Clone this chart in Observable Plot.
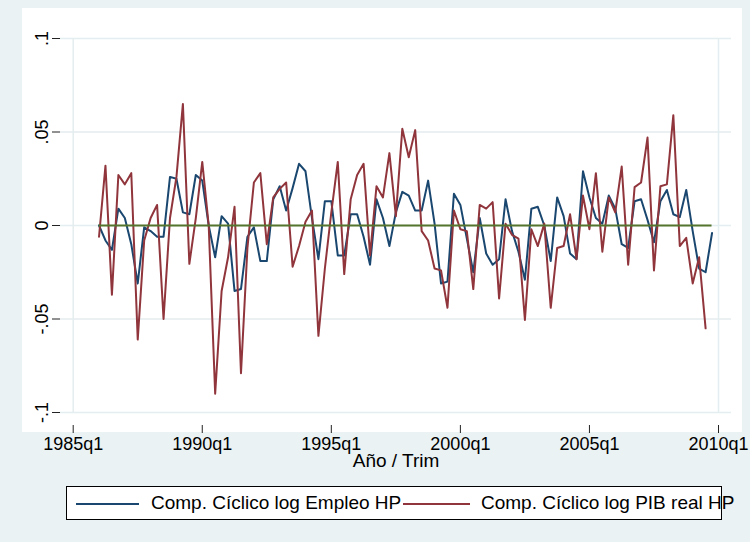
<!DOCTYPE html>
<html><head><meta charset="utf-8">
<script src="https://cdn.jsdelivr.net/npm/d3@7"></script>
<script src="https://cdn.jsdelivr.net/npm/@observablehq/plot@0.6"></script>
<style>
body{margin:0;background:#eaf2f3;font-family:"Liberation Sans",Arial,sans-serif;}
#wrap{position:relative;width:750px;height:542px;overflow:hidden;background:#eaf2f3;}
#inner{position:absolute;left:22px;top:8px;width:720px;height:424px;background:#fff;}
#chart{position:absolute;left:0;top:0;}
#legend{position:absolute;left:66px;top:486px;width:656px;height:34px;background:#fff;border:1px solid #000;box-sizing:border-box;white-space:nowrap;font-size:19px;color:#000;}
#legend .sw{position:absolute;top:16px;height:0;border-top:2px solid;}
#legend .lb{position:absolute;top:5px;line-height:22px;}
</style>
</head><body>
<div id="wrap"><div id="inner"></div><div id="chart"></div>
<div id="legend"></div></div>
<script>
const quarters = ["1986q1","1986q2","1986q3","1986q4","1987q1","1987q2","1987q3","1987q4","1988q1","1988q2","1988q3","1988q4","1989q1","1989q2","1989q3","1989q4","1990q1","1990q2","1990q3","1990q4","1991q1","1991q2","1991q3","1991q4","1992q1","1992q2","1992q3","1992q4","1993q1","1993q2","1993q3","1993q4","1994q1","1994q2","1994q3","1994q4","1995q1","1995q2","1995q3","1995q4","1996q1","1996q2","1996q3","1996q4","1997q1","1997q2","1997q3","1997q4","1998q1","1998q2","1998q3","1998q4","1999q1","1999q2","1999q3","1999q4","2000q1","2000q2","2000q3","2000q4","2001q1","2001q2","2001q3","2001q4","2002q1","2002q2","2002q3","2002q4","2003q1","2003q2","2003q3","2003q4","2004q1","2004q2","2004q3","2004q4","2005q1","2005q2","2005q3","2005q4","2006q1","2006q2","2006q3","2006q4","2007q1","2007q2","2007q3","2007q4","2008q1","2008q2","2008q3","2008q4","2009q1","2009q2","2009q3","2009q4"];

// Comp. Cíclico log Empleo HP
const empleo = [
  0.000,-0.008,-0.013, 0.009,
  0.004,-0.010,-0.031,-0.001,
 -0.003,-0.006,-0.006, 0.026,
  0.025, 0.007, 0.006, 0.027,
  0.024, 0.000,-0.017, 0.005,
  0.001,-0.035,-0.034,-0.006,
 -0.001,-0.019,-0.019, 0.014,
  0.021, 0.008, 0.020, 0.033,
  0.029, 0.004,-0.018, 0.013,
  0.013,-0.016,-0.016, 0.006,
  0.006,-0.006,-0.021, 0.014,
  0.004,-0.011, 0.007, 0.018,
  0.016, 0.008, 0.008, 0.024,
  0.001,-0.031,-0.030, 0.017,
  0.011,-0.007,-0.025, 0.004,
 -0.015,-0.021,-0.018, 0.014,
 -0.003,-0.014,-0.029, 0.009,
  0.010, 0.000,-0.019, 0.015,
  0.005,-0.015,-0.018, 0.029,
  0.015, 0.004, 0.001, 0.016,
  0.009,-0.010,-0.012, 0.013,
  0.014, 0.003,-0.009, 0.013,
  0.019, 0.006, 0.0045,0.019,
 -0.003,-0.023,-0.025,-0.004];

// Comp. Cíclico log PIB real HP
const pib = [
 -0.006, 0.032,-0.037, 0.027,
  0.022, 0.028,-0.061,-0.008,
  0.004, 0.011,-0.050, 0.004,
  0.026, 0.065,-0.0205,0.004,
  0.034, 0.000,-0.090,-0.035,
 -0.017, 0.010,-0.079,-0.012,
  0.023, 0.028,-0.010, 0.015,
  0.0196,0.023,-0.022,-0.011,
  0.002, 0.008,-0.059,-0.023,
  0.007, 0.034,-0.026, 0.014,
  0.027, 0.033,-0.016, 0.021,
  0.015, 0.0387,0.005, 0.0517,
  0.0365,0.051,-0.003,-0.008,
 -0.023,-0.024,-0.044, 0.008,
 -0.002,-0.003,-0.034, 0.011,
  0.009, 0.0125,-0.039,0.001,
 -0.005,-0.007,-0.0505,-0.002,
 -0.011, 0.001,-0.044,-0.012,
 -0.011, 0.006,-0.018, 0.016,
 -0.002, 0.028,-0.014, 0.015,
  0.007, 0.0315,-0.021,0.0205,
  0.023, 0.047,-0.024, 0.021,
  0.022, 0.059,-0.011,-0.0066,
 -0.031,-0.017,-0.055, null];

const seriesNames = ["Comp. Cíclico log Empleo HP", "Comp. Cíclico log PIB real HP"];
const xTicks = [1985, 1990, 1995, 2000, 2005, 2010];
const xTickSuffix = "q1";
const yTicks = [-0.1, -0.05, 0, 0.05, 0.1];
const xTitle = "Año / Trim";

const colors = {empleo: "#1a476f", pib: "#90353b", zero: "#55752f", grid: "#e4edef"};

const toT = s => { const [y, q] = s.split("q").map(Number); return y + (q - 1) / 4; };
const rows = quarters.map((s, i) => ({t: toT(s), empleo: empleo[i], pib: pib[i]}));
const yFmt = d => d === 0 ? "0" : String(d).replace(/^(-?)0\./, "$1.");

const chart = Plot.plot({
  width: 750, height: 470,
  marginLeft: 60, marginRight: 19, marginTop: 25, marginBottom: 45,
  style: {background: "transparent", fontFamily: "'Liberation Sans', Arial, sans-serif", fontSize: "18px", color: "#000"},
  x: {domain: [xTicks[0], xTicks[xTicks.length - 1]], insetLeft: 12.7, insetRight: 13},
  y: {domain: [yTicks[0], yTicks[yTicks.length - 1]], insetTop: 13, insetBottom: 13},
  marks: [
    Plot.gridY(yTicks, {stroke: colors.grid, strokeOpacity: 1, strokeWidth: 1.5}),
    Plot.ruleX([xTicks[0], xTicks[xTicks.length - 1]], {y1: yTicks[0], y2: yTicks[yTicks.length - 1], stroke: colors.grid, strokeWidth: 1.5}),
    Plot.axisY({ticks: yTicks, tickFormat: yFmt, tickRotate: -90, tickSize: 8, tickPadding: 5, line: true, label: null, stroke: "#222"}),
    Plot.axisX({ticks: xTicks, tickFormat: d => d + xTickSuffix, tickSize: 8, tickPadding: 4, line: true, label: null, stroke: "#222"}),
    Plot.text([xTitle], {frameAnchor: "bottom", dy: 41, fontSize: 19, fill: "#000"}),
    Plot.line(rows, {x: "t", y: "empleo", stroke: colors.empleo, strokeWidth: 2}),
    Plot.line(rows.filter(d => d.pib != null), {x: "t", y: "pib", stroke: colors.pib, strokeWidth: 2}),
    Plot.ruleY([0], {x1: rows[0].t, x2: rows[rows.length - 1].t, stroke: colors.zero, strokeWidth: 2})
  ]
});
document.getElementById("chart").appendChild(chart);

const lg = document.getElementById("legend");
const items = [
  {name: seriesNames[0], color: colors.empleo, sw: 9, swW: 63, lb: 84},
  {name: seriesNames[1], color: colors.pib, sw: 336, swW: 67, lb: 414}
];
for (const it of items) {
  const s = document.createElement("div"); s.className = "sw";
  s.style.left = it.sw + "px"; s.style.width = it.swW + "px"; s.style.borderColor = it.color;
  lg.appendChild(s);
  const l = document.createElement("div"); l.className = "lb";
  l.style.left = it.lb + "px"; l.textContent = it.name;
  lg.appendChild(l);
}
</script>
</body></html>
